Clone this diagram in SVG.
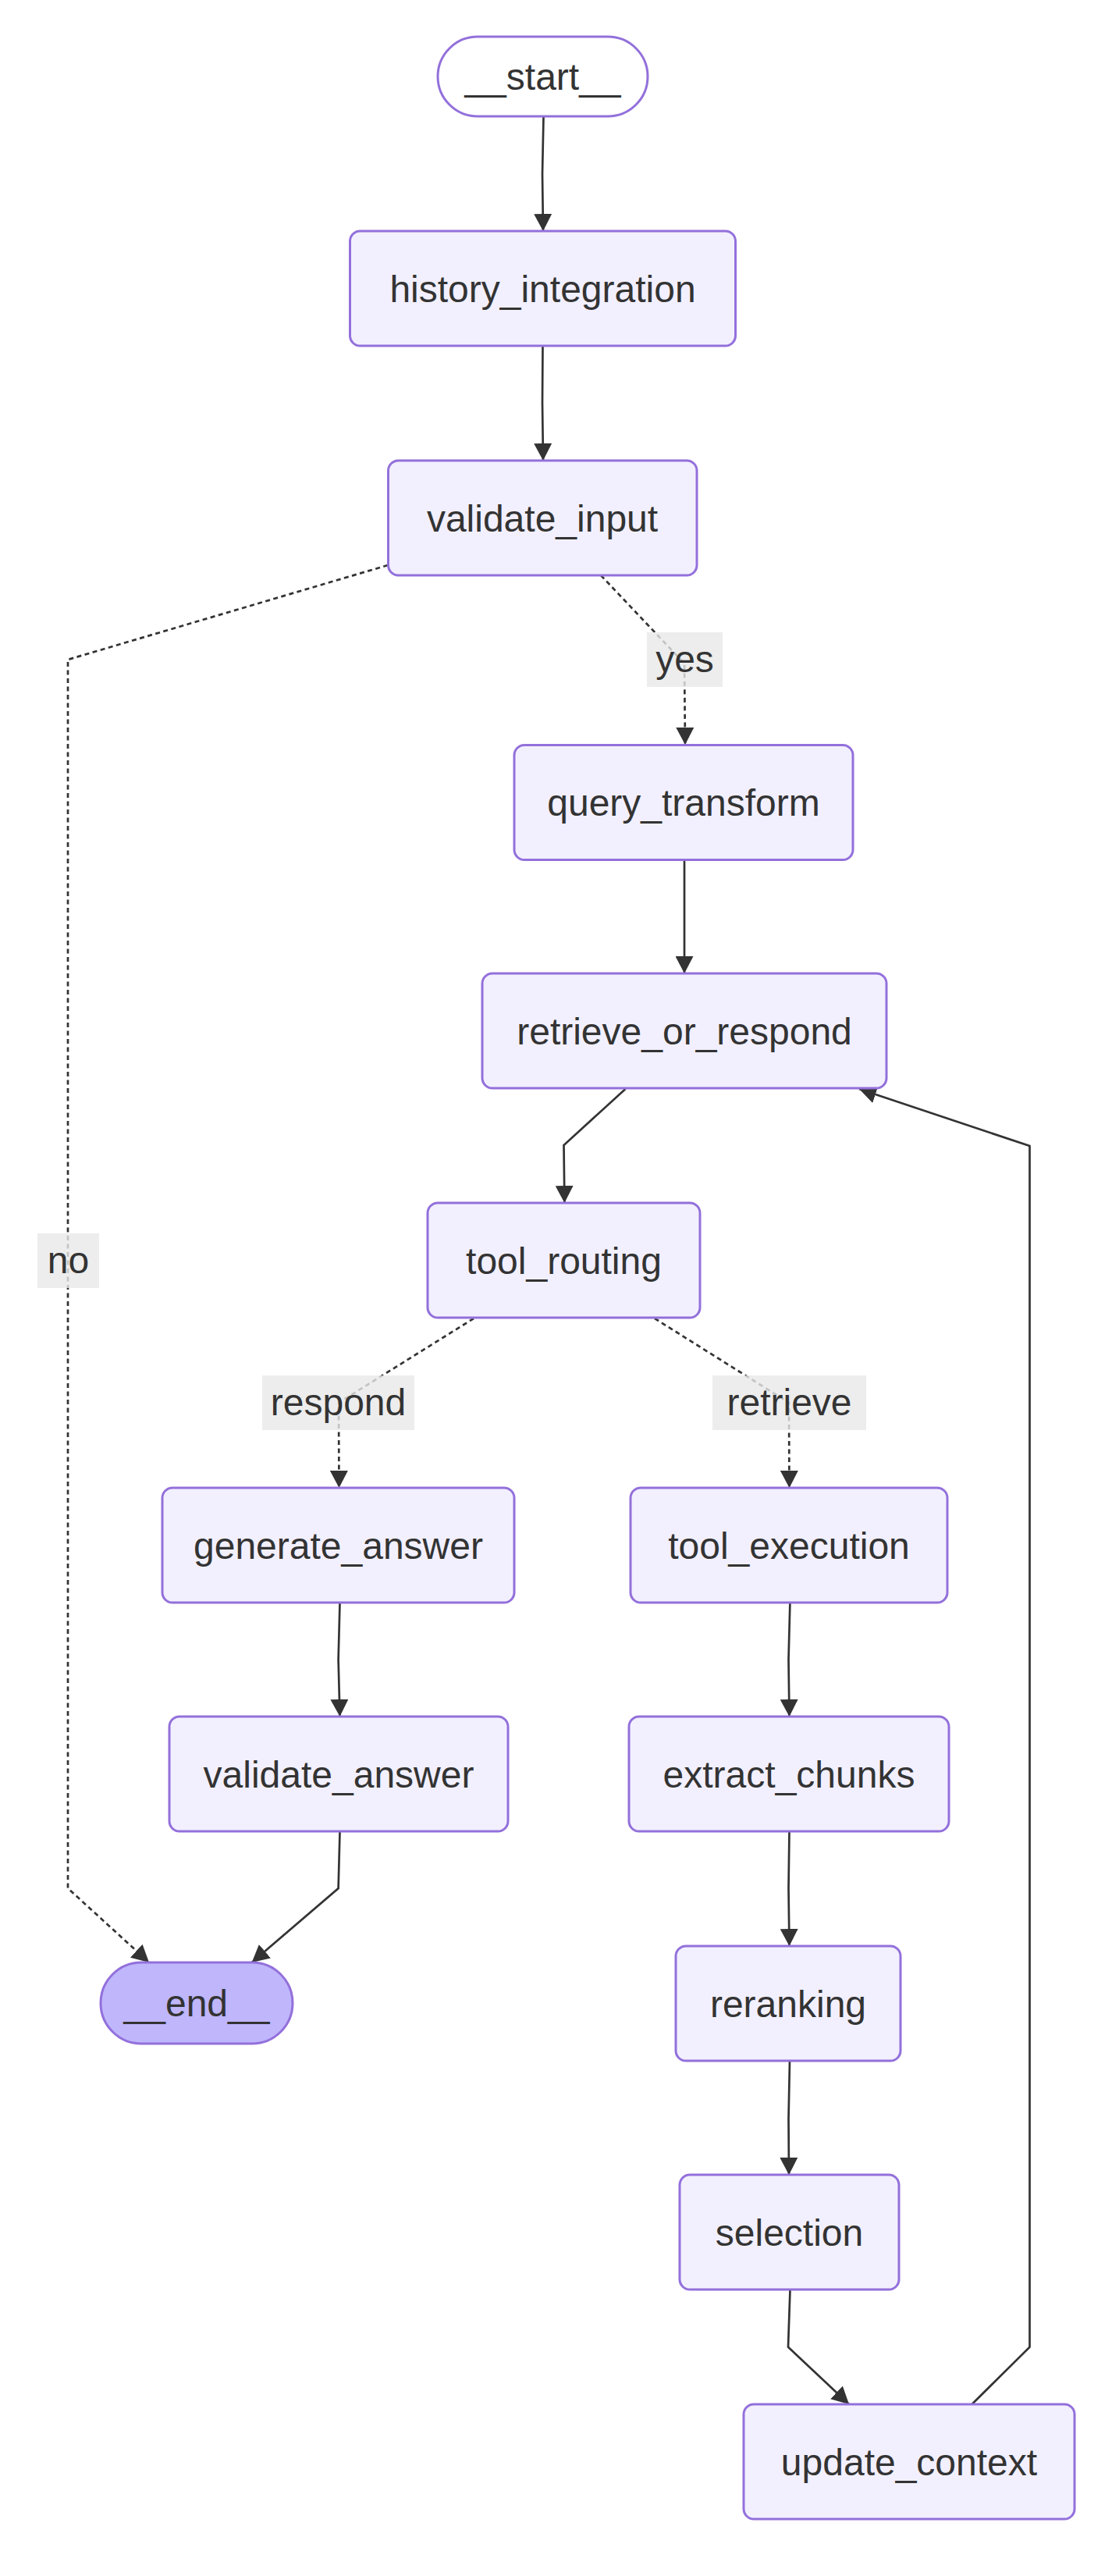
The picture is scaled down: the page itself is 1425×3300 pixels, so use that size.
<svg xmlns="http://www.w3.org/2000/svg" width="1425" height="3300" viewBox="0 0 1425 3300">
<style>
.node rect{fill:#f2f0ff;stroke:#9370db;stroke-width:3}
.node.first rect{fill:#ffffff}
.node.last rect{fill:#bfb6fc}
.node text,.lbl text{font-family:"Liberation Sans",Arial,sans-serif;font-size:48px;fill:#333333;text-anchor:middle}
.edge{fill:none;stroke:#333333;stroke-width:2.7}
.dot{stroke-dasharray:6 4.5}
.lbl rect{fill:#e8e8e8;fill-opacity:0.8}
</style>
<defs>
<marker id="arr" viewBox="0 0 22 23" markerWidth="22" markerHeight="23" refX="22" refY="11.5" orient="auto" markerUnits="userSpaceOnUse">
<path d="M0,0 L22,11.5 L0,23 z" fill="#333333"/>
</marker>
</defs>
<rect width="1425" height="3300" fill="#ffffff"/>
<g id="connectors">
<path class="edge" d="M696.5,150 L695,223 L696,296" marker-end="url(#arr)"/>
<path class="edge" d="M695.5,443 L695,516 L696,590" marker-end="url(#arr)"/>
<path class="edge dot" d="M770,737 L877,850 L878,954" marker-end="url(#arr)"/>
<path class="edge dot" d="M497,724 L87,845 L87,2419 L191,2514" marker-end="url(#arr)"/>
<path class="edge" d="M877,1101 L877,1176 L877,1247" marker-end="url(#arr)"/>
<path class="edge" d="M801.5,1395 L722.5,1467 L723.4,1541" marker-end="url(#arr)"/>
<path class="edge dot" d="M607,1689 L434,1797 L434.5,1906" marker-end="url(#arr)"/>
<path class="edge dot" d="M839,1689 L1011,1797 L1011.5,1906" marker-end="url(#arr)"/>
<path class="edge" d="M435.5,2053 L433.6,2126 L435.5,2199" marker-end="url(#arr)"/>
<path class="edge" d="M1012.4,2053 L1010.5,2126 L1011.5,2199" marker-end="url(#arr)"/>
<path class="edge" d="M435.5,2346 L433.6,2419 L322.7,2514" marker-end="url(#arr)"/>
<path class="edge" d="M1011.5,2346 L1010.5,2419 L1011.5,2493" marker-end="url(#arr)"/>
<path class="edge" d="M1012,2640 L1010.5,2714 L1011,2786" marker-end="url(#arr)"/>
<path class="edge" d="M1012.5,2933 L1010,3006.7 L1088,3080" marker-end="url(#arr)"/>
<path class="edge" d="M1245.5,3080 L1319.5,3006.7 L1319.5,1468 L1101,1395" marker-end="url(#arr)"/>
</g>
<g id="edge-labels">
<g class="lbl" id="lbl-yes"><rect x="829" y="810" width="97" height="70"/><text x="877.5" y="861">yes</text></g>
<g class="lbl" id="lbl-no"><rect x="48" y="1580" width="79" height="70"/><text x="87.5" y="1631">no</text></g>
<g class="lbl" id="lbl-respond"><rect x="336" y="1762" width="195" height="70"/><text x="433.5" y="1813">respond</text></g>
<g class="lbl" id="lbl-retrieve"><rect x="913" y="1762" width="197" height="70"/><text x="1011.5" y="1813">retrieve</text></g>
</g>
<g id="start" class="node first"><rect x="561" y="47" width="269" height="102" rx="51"/><text x="695.5" y="115">__start__</text></g>
<g id="history_integration" class="node"><rect x="448.5" y="296" width="494" height="147" rx="13"/><text x="695.5" y="386.5">history_integration</text></g>
<g id="validate_input" class="node"><rect x="497.5" y="590" width="395.5" height="147" rx="13"/><text x="695" y="680.5">validate_input</text></g>
<g id="query_transform" class="node"><rect x="659" y="954.5" width="434" height="147" rx="13"/><text x="876" y="1045">query_transform</text></g>
<g id="retrieve_or_respond" class="node"><rect x="618" y="1247" width="518" height="147" rx="13"/><text x="877" y="1337.5">retrieve_or_respond</text></g>
<g id="tool_routing" class="node"><rect x="548" y="1541" width="349" height="147" rx="13"/><text x="722.5" y="1631.5">tool_routing</text></g>
<g id="generate_answer" class="node"><rect x="208" y="1906" width="451" height="147" rx="13"/><text x="433.5" y="1996.5">generate_answer</text></g>
<g id="tool_execution" class="node"><rect x="808" y="1906" width="406" height="147" rx="13"/><text x="1011" y="1996.5">tool_execution</text></g>
<g id="validate_answer" class="node"><rect x="217" y="2199" width="434" height="147" rx="13"/><text x="434" y="2289.5">validate_answer</text></g>
<g id="extract_chunks" class="node"><rect x="806" y="2199" width="410" height="147" rx="13"/><text x="1011" y="2289.5">extract_chunks</text></g>
<g id="end" class="node last"><rect x="129" y="2514" width="246" height="104" rx="52"/><text x="252" y="2583">__end__</text></g>
<g id="reranking" class="node"><rect x="866" y="2493" width="288" height="147" rx="13"/><text x="1010" y="2583.5">reranking</text></g>
<g id="selection" class="node"><rect x="871" y="2786" width="281" height="147" rx="13"/><text x="1011.5" y="2876.5">selection</text></g>
<g id="update_context" class="node"><rect x="953" y="3080" width="424" height="147" rx="13"/><text x="1165" y="3170.5">update_context</text></g>
</svg>
